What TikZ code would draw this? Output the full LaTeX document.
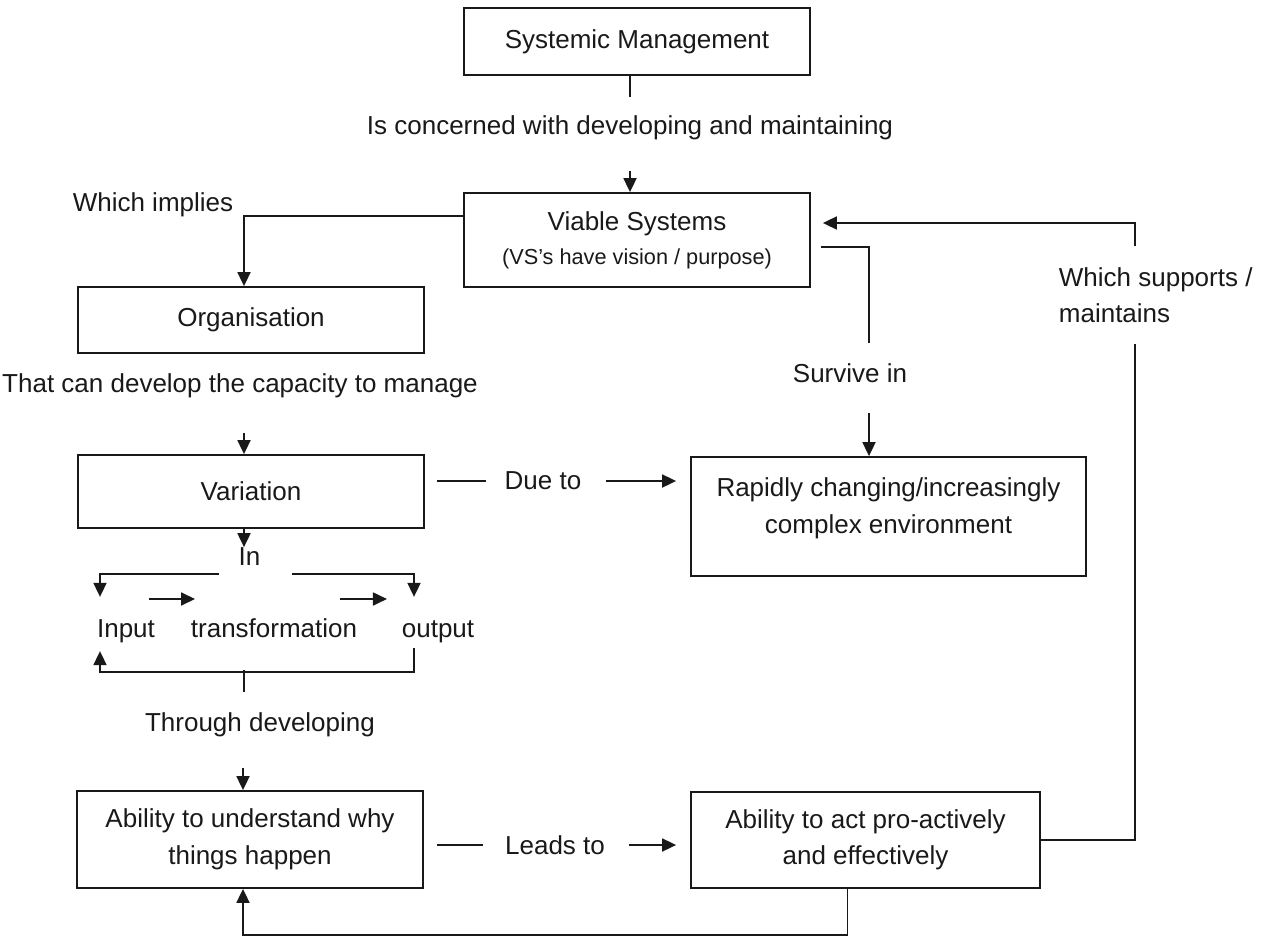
\documentclass[tikz,border=0pt]{standalone}
\usepackage{fontspec}
\setmainfont{Liberation Sans}
\usetikzlibrary{arrows.meta}

\begin{document}
\begin{tikzpicture}[x=1pt, y=-1pt, >={Triangle[length=14pt,width=13pt]}, line width=1.8pt, color=black!90,
    font=\fontsize{26}{36.5}\selectfont,
    box/.style={rectangle, draw, minimum width=346pt, align=center, inner sep=0pt},
    lbl/.style={inner sep=0pt, align=left},
    word/.style={lbl, text height=19pt, text depth=5.5pt}]
    \useasboundingbox (0,0) rectangle (1261,936);
    \node (SM) [box, minimum height=67pt] at (637,41.5) {Systemic Management};
    \node (C) [lbl] at (630,128) {Is concerned with developing and maintaining};
    \node (VS) [box, minimum height=94pt] at (637,240) {Viable Systems\\[-2.5pt]{\fontsize{21.7}{26}\selectfont (VS’s have vision / purpose)}};
    \node (WI) [lbl] at (153,205) {Which implies};
    \node (Org) [box, minimum height=66pt] at (251,320) {Organisation};
    \node (Cap) [lbl] at (240,386) {That can develop the capacity to manage};
    \node (Var) [box, minimum height=73pt] at (251,491.5) {Variation};
    \node (Due) [lbl] at (543,481) {Due to};
    \node (Env) [box, minimum width=395pt, minimum height=119pt, text depth=22pt] at (888.5,516.5) {Rapidly changing/increasingly\\complex environment};
    \node (Srv) [lbl] at (850,373) {Survive in};
    \node (Sup) [lbl, anchor=west, inner ysep=20pt] at (1058,295) {Which supports /\\maintains};
    \node (In) [lbl] at (249.5,557) {In};
    \node (Inp) [word] at (126,631) {Input};
    \node (Tr) [word] at (274,631) {transformation};
    \node (Out) [word] at (438,631) {output};
    \node (Thr) [lbl] at (260,725) {Through developing};
    \node (Und) [box, minimum height=97pt] at (250,839.5) {Ability to understand why\\things happen};
    \node (Lead) [lbl] at (555,845) {Leads to};
    \node (Act) [box, minimum width=349pt, minimum height=96pt] at (865.5,840) {Ability to act pro-actively\\and effectively};
    \draw [shorten >=18pt] (SM.south -| C.north) -- (C.north);
    \draw [->, shorten <=30pt] (C.south) -- (C.south |- VS.north);
    \draw [->] ([yshift=24pt]VS.west) -| ([xshift=-7pt]Org.north);
    \draw [->, shorten <=34pt] ([xshift=4pt]Cap.south) -- ([xshift=4pt]Cap.south |- Var.north);
    \draw [shorten <=12pt, shorten >=18pt] (Var.east |- Due.west) -- (Due.west);
    \draw [->, shorten <=24pt, shorten >=14pt] (Due.east) -- (Due.east -| Env.west);
    \draw [shorten <=10pt, shorten >=20pt] ([yshift=-7pt]VS.east) -| ([xshift=19pt]Srv.north);
    \draw [->, shorten <=30pt] ([xshift=19pt]Srv.south) -- ([xshift=19pt]Srv.south |- Env.north);
    \draw ([xshift=77pt]Sup.south west) |- (Act.east);
    \draw [->, shorten >=12pt] ([xshift=77pt]Sup.north west) |- ([yshift=17pt]VS.east);
    \draw [->] ([xshift=-7pt]Var.south) -- ([xshift=-7pt]Var.south |- In.north);
    \draw [->, shorten <=19pt, shorten >=21pt] ([yshift=-17pt]In.west) -| ([xshift=-26pt]Inp.north);
    \draw [->, shorten <=31pt, shorten >=21pt] ([yshift=-17pt]In.east) -| ([xshift=-24pt]Out.north);
    \draw [->] ([xshift=-7pt,yshift=32pt]Inp.east) -- ([xshift=5pt,yshift=32pt]Tr.west);
    \draw [->] ([xshift=-18pt,yshift=32pt]Tr.east) -- ([xshift=-14pt,yshift=32pt]Out.west);
    \draw [->, shorten <=4pt, shorten >=7pt] ([xshift=-24pt]Out.south) -- ++(0,28) -| ([xshift=-26pt]Inp.south);
    \draw [shorten <=20pt] ([xshift=-16pt]Thr.north) -- ++(0,-42);
    \draw [->, shorten <=30pt] ([xshift=-17pt]Thr.south) -- ([xshift=-17pt]Thr.south |- Und.north);
    \draw [shorten <=13pt, shorten >=21pt] (Und.east |- Lead.west) -- (Lead.west);
    \draw [->, shorten <=23pt, shorten >=14pt] (Lead.east) -- (Lead.east -| Act.west);
    \draw [->] ([xshift=-18pt]Act.south) -- ++(0,46) -| ([xshift=-7pt]Und.south);
\end{tikzpicture}
\end{document}
